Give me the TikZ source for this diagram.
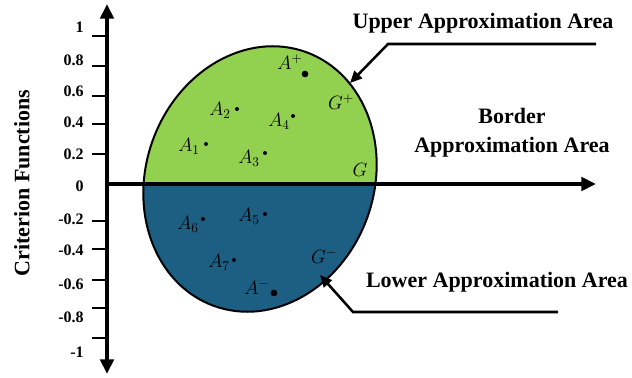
\documentclass[tikz,border=0pt]{standalone}
\usepackage{fontspec}
\setmainfont{Liberation Serif}
\usetikzlibrary{arrows.meta, positioning, backgrounds}
\definecolor{UpperGreen}{HTML}{92D050}
\definecolor{LowerBlue}{HTML}{1D5E83}

\begin{document}
\begin{tikzpicture}[x=0.75pt, y=-0.75pt,
			axisline/.style={line width=2.8pt,-{Triangle[length=11pt,width=10pt]}},
			callout/.style={line width=1.9pt,-{Triangle[length=9pt,width=8pt]}},
			tickmark/.style={line width=2.2pt},
			ticklabel/.style={anchor=east,font=\bfseries\fontsize{12}{14}\selectfont,inner sep=0pt},
			areatext/.style={font=\bfseries\fontsize{16.5}{21.5}\selectfont,align=center,inner sep=0pt},
			ptlabel/.style={font=\fontsize{14}{16}\selectfont,inner sep=0pt},
			pointdot/.style={fill=black,circle,inner sep=0pt,minimum size=3pt},
			bigdot/.style={fill=black,circle,inner sep=0pt,minimum size=5pt}
		]
		\useasboundingbox (0,0) rectangle (632,378);
		\def\regionpath{(260,179) ellipse [x radius=135, y radius=114, rotate=70]}
		% regions
		\fill[UpperGreen] \regionpath;
		\begin{scope}
			\clip (0,184) rectangle (632,378);
			\fill[LowerBlue] \regionpath;
		\end{scope}
		\draw[line width=1.5pt] \regionpath;
		% axes
		\coordinate (origin) at (107,184);
		\coordinate (ytop) at (107,4);
		\coordinate (ybot) at (107,374);
		\coordinate (xend) at (596,184);
		\draw[axisline] (origin) -- (xend);
		\draw[axisline,{Triangle[length=11pt,width=10pt]}-{Triangle[length=11pt,width=10pt]}] (ytop) -- (ybot);
		\foreach \ty in {36,66,96,124,154,221,249,280,308,338}
			\draw[tickmark] (92,\ty) -- (107,\ty);
		\foreach \ty/\tl in {27/1,60/0.8,91/0.6,122/0.4,154/0.2,186/0,219/-0.2,250/-0.4,284/-0.6,317/-0.8,352/-1}
			\node (tick\ty) [ticklabel] at (84,\ty) {\tl};
		\node (ytitle) [areatext,rotate=90] at (22,183) {Criterion Functions};
		% points
		\node (dotAp) [bigdot] at (305,74) {};
		\node (labAp) [ptlabel] at (290,62) {$A^{+}$};
		\node (dot2) [pointdot] at (237,109) {};
		\node (lab2) [ptlabel] at (220,110) {$A_2$};
		\node (dot4) [pointdot] at (293,116) {};
		\node (lab4) [ptlabel] at (279,121) {$A_4$};
		\node (dot1) [pointdot] at (206,144) {};
		\node (lab1) [ptlabel] at (189,146) {$A_1$};
		\node (dot3) [pointdot] at (265,153) {};
		\node (lab3) [ptlabel] at (249,158) {$A_3$};
		\node (labGp) [ptlabel] at (341,102) {$G^{+}$};
		\node (labG) [ptlabel] at (360,170) {$G$};
		\node (dot6) [pointdot] at (203,219) {};
		\node (lab6) [ptlabel] at (188,224) {$A_6$};
		\node (dot5) [pointdot] at (265,214) {};
		\node (lab5) [ptlabel] at (249,216) {$A_5$};
		\node (dot7) [pointdot] at (234,260) {};
		\node (lab7) [ptlabel] at (219,262) {$A_7$};
		\node (labGm) [ptlabel] at (324,256) {$G^{-}$};
		\node (dotAm) [bigdot] at (274,293) {};
		\node (labAm) [ptlabel] at (257,287) {$A^{-}$};
		% area labels
		\node (upper) [areatext] at (483,23) {Upper Approximation Area};
		\node (border) [areatext] at (512,133) {Border\\Approximation Area};
		\node (lower) [areatext] at (497,282) {Lower Approximation Area};
		\coordinate (upEnd) at (596,44);
		\coordinate (upBend) at (388,44);
		\coordinate (upTip) at (350,83);
		\coordinate (lowEnd) at (558,312);
		\coordinate (lowBend) at (353,312);
		\coordinate (lowTip) at (320,275);
		\draw[callout] (upEnd) -- (upBend) -- (upTip);
		\draw[callout] (lowEnd) -- (lowBend) -- (lowTip);
	\end{tikzpicture}
\end{document}
